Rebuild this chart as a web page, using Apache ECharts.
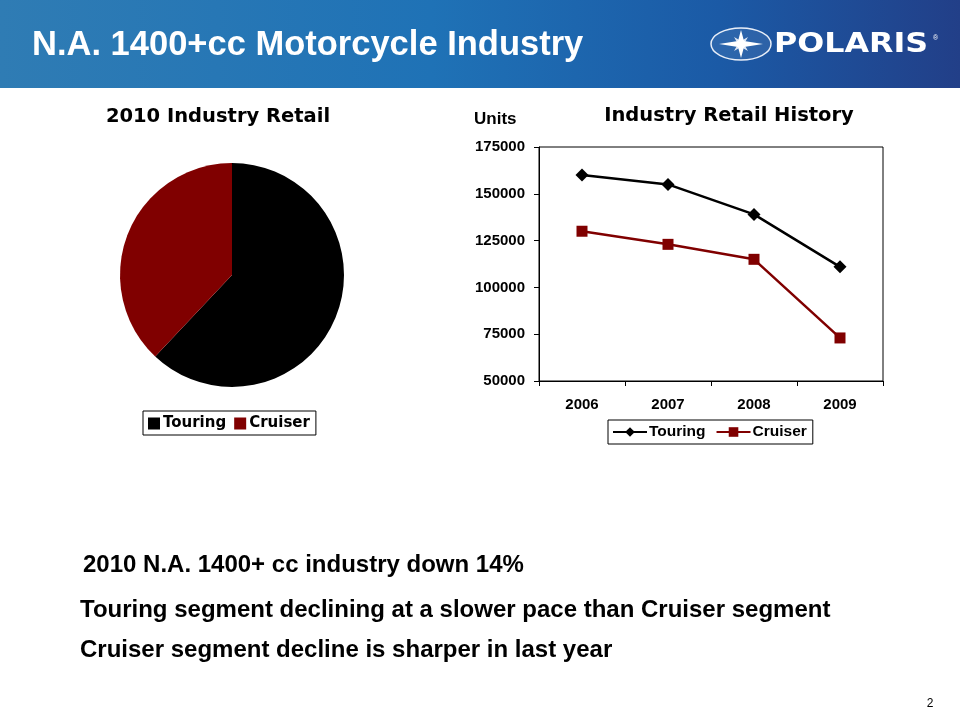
<!DOCTYPE html>
<html>
<head>
<meta charset="utf-8">
<script src="https://cdn.jsdelivr.net/npm/echarts@6/dist/echarts.min.js"></script>
<style>
html,body{margin:0;padding:0;background:#fff;}
#base,#line{position:absolute;left:0;top:0;width:960px;height:720px;}
</style>
</head>
<body>
<div id="base"></div>
<div id="line"></div>
<script>
// ---- data ----
var pieNames = ['Touring', 'Cruiser'];
var pieValues = [98000, 60000];           // 2010 industry retail (share ~62% / 38%)
var years = ['2006', '2007', '2008', '2009'];
var touring = [160000, 155000, 139000, 111000];
var cruiser = [130000, 123000, 115000, 73000];
var yTicks = [50000, 75000, 100000, 125000, 150000, 175000];
var bullets = [
  '2010 N.A. 1400+ cc industry down 14%',
  'Touring segment declining at a slower pace than Cruiser segment',
  'Cruiser segment decline is sharper in last year'
];
var colors = {Touring: '#000000', Cruiser: '#800000'};

var arial = '"Liberation Sans", Arial, sans-serif';
var verd = '"DejaVu Sans", Verdana, sans-serif';

// ---- base chart: header, pie, bullets ----
var base = echarts.init(document.getElementById('base'));
var starPts = [[0,-14],[3,-3],[22,0],[3,3],[0,14],[-3,3],[-22,0],[-3,-3]];
var starSmall = [[0,-3],[7,-7],[3,0],[7,7],[0,3],[-7,7],[-3,0],[-7,-7]];
base.setOption({
  animation: false,
  backgroundColor: '#ffffff',
  graphic: [
    {type: 'rect', left: 0, top: 0, z: 0, shape: {width: 960, height: 88},
     style: {fill: new echarts.graphic.LinearGradient(0, 0, 1, 0, [
       {offset: 0, color: '#2f7cb4'}, {offset: 0.45, color: '#1f72b6'},
       {offset: 0.75, color: '#1b5aa6'}, {offset: 1, color: '#223f88'}])}},
    {type: 'text', x: 32, y: 45, z: 2, style: {text: 'N.A. 1400+cc Motorcycle Industry',
      fill: '#fff', font: 'bold 34.5px ' + arial, textVerticalAlign: 'middle'}},
    // logo
    {type: 'ellipse', z: 2, shape: {cx: 741, cy: 44, rx: 30, ry: 16},
     style: {fill: 'rgba(255,255,255,0.08)', stroke: '#e8eef8', lineWidth: 1.5}},
    {type: 'polygon', z: 3, x: 741, y: 44, shape: {points: starSmall}, style: {fill: '#dfe8f5'}},
    {type: 'polygon', z: 4, x: 741, y: 44, shape: {points: starPts}, style: {fill: '#ffffff'}},
    {type: 'text', x: 774, y: 45, z: 2, scaleX: 1.22,
     style: {text: 'POLARIS', fill: '#fff', font: 'bold 26px ' + verd, textVerticalAlign: 'middle'}},
    {type: 'text', x: 933, y: 38, z: 2, style: {text: '®', fill: '#fff', font: '7px ' + arial, textVerticalAlign: 'middle'}},
    // pie title
    {type: 'text', x: 218, y: 117, style: {text: '2010 Industry Retail', fill: '#000',
      font: 'bold 19.5px ' + verd, textAlign: 'center', textVerticalAlign: 'middle'}},
    // bullets
    {type: 'text', x: 83, y: 565, style: {text: bullets[0], fill: '#000', font: 'bold 24px ' + arial, textVerticalAlign: 'middle'}},
    {type: 'text', x: 80, y: 610, style: {text: bullets[1], fill: '#000', font: 'bold 24px ' + arial, textVerticalAlign: 'middle'}},
    {type: 'text', x: 80, y: 650, style: {text: bullets[2], fill: '#000', font: 'bold 24px ' + arial, textVerticalAlign: 'middle'}},
    {type: 'text', x: 930, y: 704, style: {text: '2', fill: '#000', font: '12px ' + arial, textAlign: 'center', textVerticalAlign: 'middle'}}
  ],
  legend: {
    left: 143, top: 411, orient: 'horizontal',
    data: pieNames, icon: 'rect', itemWidth: 12, itemHeight: 12, itemGap: 8,
    borderColor: '#000', borderWidth: 1, borderRadius: 0, padding: [5, 6, 4, 5],
    textStyle: {fontFamily: verd, fontWeight: 'bold', fontSize: 15, color: '#000', padding: [0, 0, 0, -2]},
    selectedMode: false
  },
  series: [{
    type: 'pie', center: [232, 275], radius: 112, startAngle: 90, clockwise: true,
    silent: true, label: {show: false}, labelLine: {show: false},
    itemStyle: {borderWidth: 0},
    data: pieNames.map(function (n, i) {
      return {name: n, value: pieValues[i], itemStyle: {color: colors[n]}};
    })
  }]
});

// ---- line chart ----
var lc = echarts.init(document.getElementById('line'));
lc.setOption({
  animation: false,
  backgroundColor: 'transparent',
  graphic: [
    {type: 'text', x: 729, y: 116, style: {text: 'Industry Retail History', fill: '#000',
      font: 'bold 19.5px ' + verd, textAlign: 'center', textVerticalAlign: 'middle'}},
    {type: 'text', x: 474, y: 119, style: {text: 'Units', fill: '#000',
      font: 'bold 17px ' + arial, textVerticalAlign: 'middle'}}
  ],
  grid: {left: 539, right: 77, top: 147, bottom: 339, show: true,
    borderColor: '#000', borderWidth: 1, backgroundColor: 'transparent'},
  legend: {
    left: 608, top: 420, data: ['Touring', 'Cruiser'],
    itemWidth: 34, itemHeight: 12, itemGap: 10,
    borderColor: '#000', borderWidth: 1, borderRadius: 0, padding: [4, 6, 4, 4],
    textStyle: {fontFamily: arial, fontWeight: 'bold', fontSize: 15.5, color: '#000', padding: [0, 0, 0, -3]},
    selectedMode: false
  },
  xAxis: {
    type: 'category', data: years, boundaryGap: true,
    axisLine: {lineStyle: {color: '#000', width: 1}},
    axisTick: {show: true, alignWithLabel: false, inside: false, length: 5, lineStyle: {color: '#000'}},
    axisLabel: {color: '#000', fontFamily: arial, fontWeight: 'bold', fontSize: 15, margin: 16},
    splitLine: {show: false}
  },
  yAxis: {
    type: 'value', min: yTicks[0], max: yTicks[yTicks.length - 1], interval: yTicks[1] - yTicks[0],
    axisLine: {show: true, lineStyle: {color: '#000', width: 1}},
    axisTick: {show: true, inside: false, length: 5, lineStyle: {color: '#000'}},
    axisLabel: {color: '#000', fontFamily: arial, fontWeight: 'bold', fontSize: 15, margin: 14,
      formatter: function (v) { return String(v); }},
    splitLine: {show: false}
  },
  series: [
    {name: 'Touring', type: 'line', data: touring, symbol: 'diamond', symbolSize: 13,
     color: colors.Touring, lineStyle: {width: 2.5, color: colors.Touring},
     itemStyle: {color: colors.Touring}, silent: true},
    {name: 'Cruiser', type: 'line', data: cruiser, symbol: 'rect', symbolSize: 11,
     color: colors.Cruiser, lineStyle: {width: 2.5, color: colors.Cruiser},
     itemStyle: {color: colors.Cruiser}, silent: true}
  ]
});
</script>
</body>
</html>
